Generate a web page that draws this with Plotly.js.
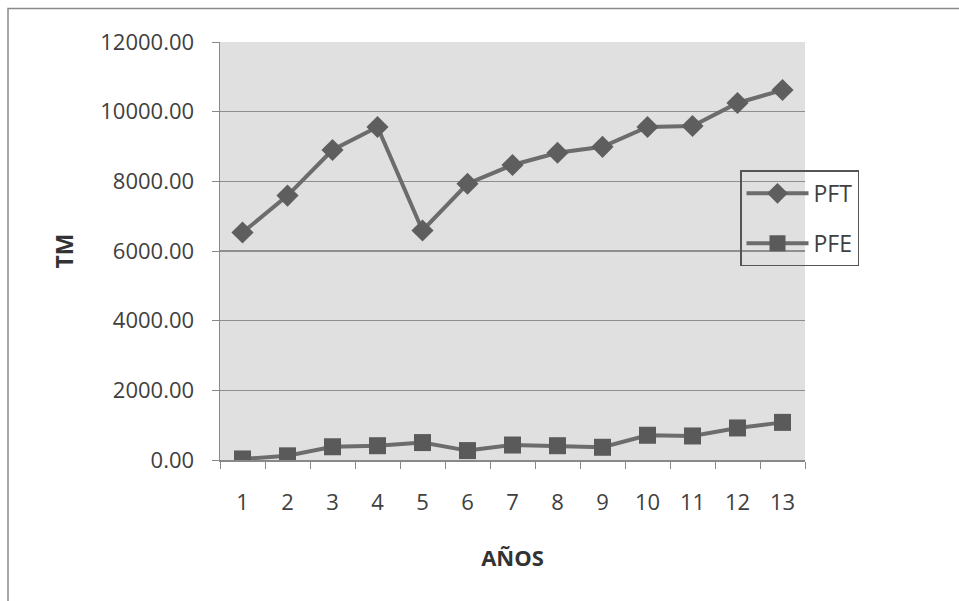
<!DOCTYPE html>
<html>
<head>
<meta charset="utf-8">
<script src="https://cdn.plot.ly/plotly-3.0.1.min.js"></script>
<style>html,body{margin:0;padding:0;background:#fff;}#chart{width:959px;height:601px;}</style>
</head>
<body>
<div id="chart"></div>
<script>
var years = ["1","2","3","4","5","6","7","8","9","10","11","12","13"];
var pft = [6530, 7590, 8900, 9560, 6590, 7930, 8470, 8820, 8990, 9560, 9590, 10250, 10620];
var pfe = [30, 120, 380, 410, 500, 270, 430, 410, 365, 710, 690, 920, 1080];
var yTicks = [0, 2000, 4000, 6000, 8000, 10000, 12000];

var L = 220, R = 805, T = 41.5, B = 460;
var W = R - L, H = B - T;
function px(x){ return (x - L) / W; }
function py(y){ return (B - y) / H; }

var traces = [
  {x: years, y: pft, name: 'PFT', type: 'scatter', mode: 'lines+markers', legendgroup: 'a',
   line: {color: '#6c6c6c', width: 4},
   marker: {symbol: 'diamond', size: 17, color: '#5e5e5e'}},
  {x: years, y: pfe, name: 'PFE', type: 'scatter', mode: 'lines+markers', legendgroup: 'b',
   line: {color: '#6c6c6c', width: 4},
   marker: {symbol: 'square', size: 17, color: '#5a5a5a'}}
];

var layout = {
  width: 959, height: 601,
  margin: {l: L, r: 959 - R, t: T, b: 601 - B},
  paper_bgcolor: '#ffffff',
  plot_bgcolor: '#e0e0e0',
  font: {family: 'Open Sans, sans-serif', size: 21, color: '#404040'},
  showlegend: true,
  legend: {x: px(740), y: py(170), xanchor: 'left', yanchor: 'top',
           bgcolor: 'rgba(0,0,0,0)', bordercolor: '#555555', borderwidth: 1.5,
           font: {size: 23, color: '#404040'}, tracegroupgap: 17, traceorder: 'grouped',
           itemwidth: 62},
  xaxis: {type: 'category', range: [-0.5, 12.5], autorange: false, tickson: 'boundaries',
          ticks: 'outside', ticklen: 7,
          tickcolor: '#888888', showline: true, linecolor: '#888888', linewidth: 1.5,
          showgrid: false, zeroline: false, tickfont: {size: 22, color: '#404040'},
          ticklabelstandoff: 22,
          title: {text: 'AÑOS', font: {size: 22, color: '#333333', family: 'Open Sans, sans-serif', weight: 'bold'}, standoff: 35}},
  yaxis: {range: [0, 12000], autorange: false, tickvals: yTicks, tickformat: '.2f', ticks: 'outside', ticklen: 7,
          tickcolor: '#888888', showline: true, linecolor: '#888888', linewidth: 1.5,
          gridcolor: '#8e8e8e', gridwidth: 1.5, zeroline: false,
          tickfont: {size: 22, color: '#404040'}, ticklabelstandoff: 13,
          title: {text: 'TM', font: {size: 23, color: '#333333', family: 'Open Sans, sans-serif', weight: 'bold'}, standoff: 20}},
  shapes: [
    {type: 'rect', xref: 'paper', yref: 'paper', x0: px(8), x1: px(975), y0: py(615), y1: py(8),
     line: {color: '#8a8a8a', width: 1.5}, layer: 'below'}
  ]
};

Plotly.newPlot('chart', traces, layout, {staticPlot: true, displayModeBar: false});
</script>
</body>
</html>
